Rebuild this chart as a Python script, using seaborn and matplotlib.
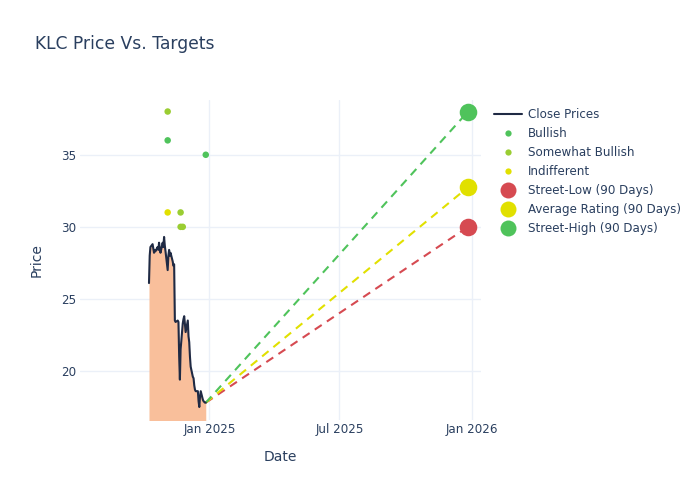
import pandas as pd
import numpy as np
import matplotlib.pyplot as plt
import matplotlib.dates as mdates
from matplotlib.lines import Line2D
import seaborn as sns

# Datos
fechas = pd.bdate_range('2024-10-09', '2024-12-27')
fechas = fechas[~fechas.isin(pd.to_datetime(['2024-11-28', '2024-12-25']))]
cierres = [26.1, 28.0, 28.6, 28.8, 28.5, 28.2, 28.4, 28.3, 28.6, 28.4,
           28.9, 28.5, 28.2, 28.9, 28.6, 29.3, 28.7, 28.3, 27.0, 28.0,
           28.4, 28.0, 28.2, 27.6, 27.3, 27.4, 23.5, 23.4, 23.5, 23.4,
           21.0, 19.4, 21.5, 23.3, 23.6, 23.8, 22.7, 23.5, 22.4, 22.0,
           21.0, 20.3, 19.6, 19.5, 19.0, 18.7, 18.6, 18.6, 17.9, 17.5,
           18.2, 18.6, 18.0, 17.9, 17.8, 17.8]

analista_fechas = ['2024-11-04', '2024-11-04', '2024-11-04', '2024-11-22',
                   '2024-11-22', '2024-11-25', '2024-12-27']
analista_precio = [36, 38, 31, 31, 30, 30, 35]
analista_rating = ['Bullish', 'Somewhat Bullish', 'Indifferent', 'Somewhat Bullish',
                   'Somewhat Bullish', 'Somewhat Bullish', 'Bullish']

objetivo_fecha = '2025-12-27'
objetivo_nombres = ['Street-Low (90 Days)', 'Average Rating (90 Days)', 'Street-High (90 Days)']
objetivo_valores = [30.0, 32.75, 38.0]

colores_rating = {'Bullish': '#4fc35b', 'Somewhat Bullish': '#9acd32', 'Indifferent': '#e1e000'}
colores_obj = ['#d64a51', '#e1e000', '#4fc35b']
texto = '#2a3f5f'

sns.set_theme(style="white")
plt.rcParams['font.family'] = ['DejaVu Sans']

df = pd.DataFrame({'Date': fechas, 'Close': cierres})
an = pd.DataFrame({'Date': pd.to_datetime(analista_fechas), 'Price': analista_precio,
                   'Rating': analista_rating})

fig = plt.figure(figsize=(7, 5), dpi=100)
ax = fig.add_axes([80 / 700, 1 - 420 / 500, 401 / 700, 320 / 500])

ax.fill_between(df['Date'], df['Close'], 0, color='#f9bf9b', lw=0, zorder=1)
sns.lineplot(data=df, x='Date', y='Close', color='#1f2a44', lw=1.5, ax=ax, zorder=3)

# Líneas de objetivo desde el último cierre
ultima_fecha = df['Date'].iloc[-1]
ultimo = df['Close'].iloc[-1]
for nombre, val, col in zip(objetivo_nombres, objetivo_valores, colores_obj):
    ax.plot([ultima_fecha, pd.Timestamp(objetivo_fecha)], [ultimo, val],
            ls=(0, (4, 3)), color=col, lw=1.5, zorder=2)
    ax.scatter([pd.Timestamp(objetivo_fecha)], [val], s=160, color=col, zorder=4, lw=0)

sns.scatterplot(data=an, x='Date', y='Price', hue='Rating', palette=colores_rating,
                s=22, linewidth=0, ax=ax, legend=False, zorder=5)

ax.set_xlim(pd.Timestamp('2024-07-05'), pd.Timestamp('2026-01-14'))
ax.set_ylim(16.6, 38.8)
ax.set_yticks([20, 25, 30, 35])
ax.set_xticks(pd.to_datetime(['2025-01-01', '2025-07-01', '2026-01-01']))
ax.xaxis.set_major_formatter(mdates.DateFormatter('%b %Y'))
ax.grid(True, color='#ebf0f8', lw=1)
ax.set_axisbelow(True)
for s in ax.spines.values():
    s.set_visible(False)
ax.tick_params(axis='x', length=0, labelsize=8.6, labelcolor=texto, pad=2)
ax.tick_params(axis='y', length=0, labelsize=8.6, labelcolor=texto, pad=3)
ax.set_xlabel('Date', fontsize=10, color=texto, labelpad=10)
ax.set_ylabel('Price', fontsize=10, color=texto, labelpad=12)

fig.text(35 / 700, 1 - 44 / 500, 'KLC Price Vs. Targets', fontsize=12.3, color=texto, va='center')

handles = [Line2D([], [], color='#1f2a44', lw=1.5)]
for r in ['Bullish', 'Somewhat Bullish', 'Indifferent']:
    handles.append(Line2D([], [], ls='', marker='o', ms=4.5, mew=0, color=colores_rating[r]))
for col in colores_obj:
    handles.append(Line2D([], [], ls='', marker='o', ms=11.5, mew=0, color=col))
etiquetas = ['Close Prices', 'Bullish', 'Somewhat Bullish', 'Indifferent'] + objetivo_nombres
leg = fig.legend(handles, etiquetas, loc='upper left', bbox_to_anchor=(494 / 700, 1 - 108 / 500),
                 frameon=False, fontsize=8.6, handlelength=2.35, handletextpad=0.5,
                 labelspacing=0.5, borderpad=0, borderaxespad=0)
for t in leg.get_texts():
    t.set_color(texto)

fig.savefig('out.png', dpi=100)
